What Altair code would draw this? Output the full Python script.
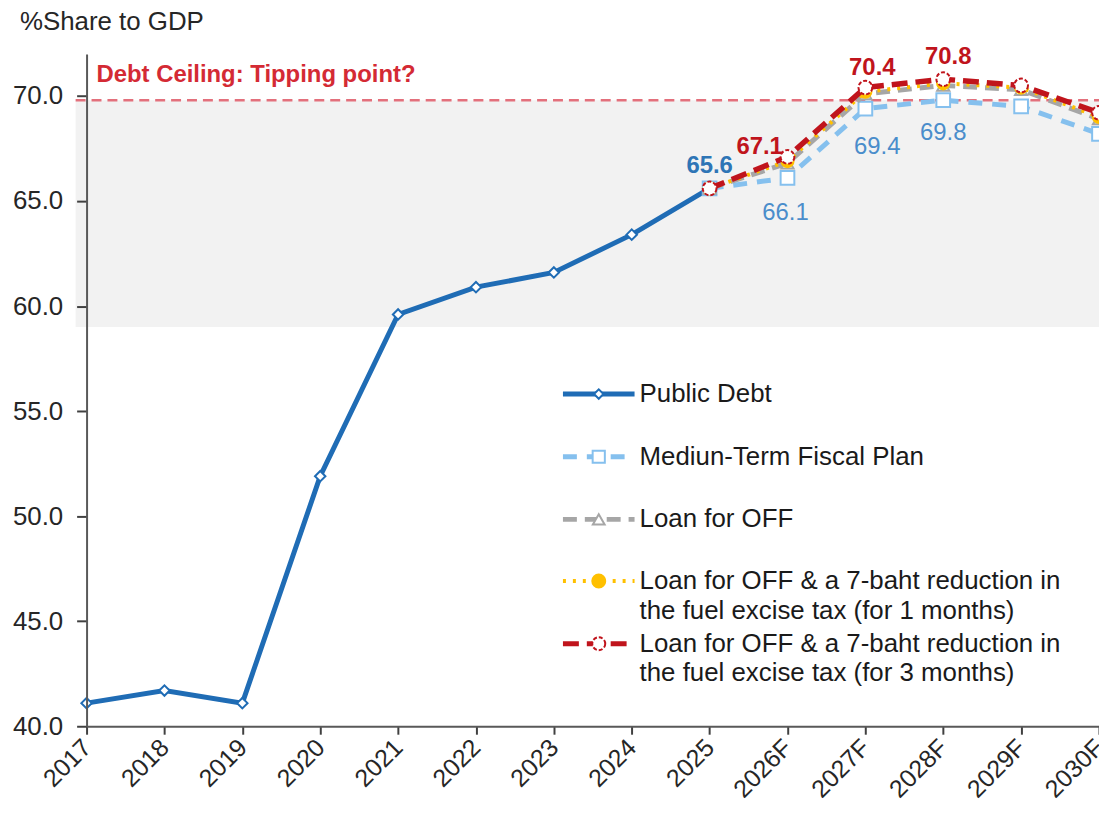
import altair as alt
import pandas as pd

FONT = "Liberation Sans"

# ---------------- data ----------------
years = ["2017", "2018", "2019", "2020", "2021", "2022", "2023", "2024",
         "2025", "2026F", "2027F", "2028F", "2029F", "2030F"]
hist_years = years[:9]
public_debt = [41.1, 41.7, 41.1, 51.9, 59.6, 60.9, 61.6, 63.4, 65.6]

fc_years = ["2025", "2026F", "2027F", "2028F", "2029F", "2030F"]
medium_term = [65.6, 66.1, 69.4, 69.8, 69.5, 68.2]
loan_off = [65.6, 66.8, 70.1, 70.5, 70.3, 68.9]
loan_1m = [65.6, 66.9, 70.2, 70.6, 70.4, 69.0]
loan_3m = [65.6, 67.1, 70.4, 70.8, 70.5, 69.2]

ceiling_value = [69.8]
band_range = [59.0, 69.8]
ceiling_text = ["Debt Ceiling: Tipping point?"]
y_title = "%Share to GDP"

legend_labels = [
    ["Public Debt"],
    ["Mediun-Term Fiscal Plan"],
    ["Loan for OFF"],
    ["Loan for OFF & a 7-baht reduction in", "the fuel excise tax (for 1 months)"],
    ["Loan for OFF & a 7-baht reduction in", "the fuel excise tax (for 3 months)"],
]

# ---------------- layout ----------------
W, H = 1018, 676
C_PD = "#1F6CB5"
C_MT = "#85C0EE"
C_OFF = "#A6A6A6"
C_1M = "#FFC000"
C_3M = "#C0141C"
C_CEIL = "#E3707C"

def X():
    return alt.X("year:O",
                 scale=alt.Scale(domain=years, type="point", padding=0),
                 axis=alt.Axis(title=None, labelAngle=-45, labelAlign="right",
                               labelBaseline="middle", labelFontSize=25,
                               labelPadding=9, tickSize=8, zindex=1, grid=False))

def Y(field):
    return alt.Y(f"{field}:Q",
                 scale=alt.Scale(domain=[40, 72], nice=False, zero=False),
                 axis=alt.Axis(title=None, values=[40, 45, 50, 55, 60, 65, 70],
                               format=".1f", tickSize=10, labelPadding=14,
                               labelFontSize=26, zindex=1, grid=False))

layers = []

# band
band_df = pd.DataFrame({"lo": [band_range[0]], "hi": [band_range[1]]})
layers.append(alt.Chart(band_df).mark_rect(color="#F2F2F2").encode(
    y=Y("lo"), y2="hi", x=alt.value(-11), x2=alt.value(W)))

# ceiling line
ceil_df = pd.DataFrame({"c": ceiling_value})
layers.append(alt.Chart(ceil_df).mark_rule(color=C_CEIL, strokeWidth=2.5,
                                           strokeDash=[10, 6]).encode(
    y=Y("c"), x=alt.value(-11), x2=alt.value(W)))

ceil_txt_df = pd.DataFrame({"t": ceiling_text, "v": [71.0]})
layers.append(alt.Chart(ceil_txt_df).mark_text(
    align="left", baseline="middle", fontSize=24, fontWeight="bold",
    color="#D42A34", font=FONT).encode(x=alt.value(10), y=Y("v"), text="t:N"))


def series(yrs, vals, color, width, dash, shape, size, fill, pdash=None):
    df = pd.DataFrame({"year": yrs, "value": vals})
    base = alt.Chart(df).encode(x=X(), y=Y("value"))
    lk = dict(color=color, strokeWidth=width, strokeCap="butt")
    if dash:
        lk["strokeDash"] = dash
    pk = dict(shape=shape, size=size, filled=True, fill=fill, stroke=color,
              strokeWidth=2, opacity=1)
    if pdash:
        pk["strokeDash"] = pdash
    return [base.mark_line(**lk), base.mark_point(**pk)]

layers += series(hist_years, public_debt, C_PD, 5, None, "diamond", 110, "white")
layers += series(fc_years, medium_term, C_MT, 5, [14, 10], "square", 190, "white")
layers += series(fc_years, loan_off, C_OFF, 5, [14, 8], "triangle-up", 150, "white")
layers += series(fc_years, loan_1m, C_1M, 4, [3, 7], "circle", 150, C_1M)
layers += series(fc_years, loan_3m, C_3M, 5.5, [16, 8], "circle", 190, "white", [4, 2])

# data labels
def label(yr, val, color, weight, dx, dy):
    df = pd.DataFrame({"year": [yr], "value": [val]})
    return alt.Chart(df).mark_text(
        fontSize=24, fontWeight=weight, color=color, font=FONT,
        align="center", baseline="middle", dx=dx, dy=dy).encode(
        x=X(), y=Y("value"), text=alt.Text("value:Q", format=".1f"))

layers.append(label("2025", public_debt[8], "#2E75B6", "bold", 0, -22))
layers.append(label("2026F", loan_3m[1], C_3M, "bold", -28, -10))
layers.append(label("2027F", loan_3m[2], C_3M, "bold", 7, -20))
layers.append(label("2028F", loan_3m[3], C_3M, "bold", 5, -22))
layers.append(label("2026F", medium_term[1], "#4A8DCB", "normal", -2, 35))
layers.append(label("2027F", medium_term[2], "#4A8DCB", "normal", 12, 39))
layers.append(label("2028F", medium_term[3], "#4A8DCB", "normal", 0, 33))

# legend (hand-built inside the plot)
LX0, LX1, LXM, LXT = 479, 551, 515, 556
LEG_Y = [342, 405, 468, 530, 593]
LINE_GAP = 30
leg_styles = [
    dict(color=C_PD, width=5, dash=None, shape="diamond", size=90, fill="white", pdash=None),
    dict(color=C_MT, width=5, dash=[14, 10], shape="square", size=150, fill="white", pdash=None),
    dict(color=C_OFF, width=5, dash=[14, 8], shape="triangle-up", size=140, fill="white", pdash=None),
    dict(color=C_1M, width=4, dash=[3, 7], shape="circle", size=170, fill=C_1M, pdash=None),
    dict(color=C_3M, width=5, dash=[16, 8], shape="circle", size=170, fill="white", pdash=[4, 2]),
]
for i, (lines, st) in enumerate(zip(legend_labels, leg_styles)):
    yy = LEG_Y[i]
    one = pd.DataFrame({"t": [lines[0]]})
    rk = dict(color=st["color"], strokeWidth=st["width"], strokeCap="butt")
    if st["dash"]:
        rk["strokeDash"] = st["dash"]
    layers.append(alt.Chart(one).mark_rule(**rk).encode(
        x=alt.value(LX0), x2=alt.value(LX1), y=alt.value(yy)))
    pk = dict(shape=st["shape"], size=st["size"], filled=True, fill=st["fill"],
              stroke=st["color"], strokeWidth=2, opacity=1)
    if st["pdash"]:
        pk["strokeDash"] = st["pdash"]
    layers.append(alt.Chart(one).mark_point(**pk).encode(
        x=alt.value(LXM), y=alt.value(yy)))
    for j, ln in enumerate(lines):
        tdf = pd.DataFrame({"t": [ln]})
        layers.append(alt.Chart(tdf).mark_text(
            align="left", baseline="middle", fontSize=26, color="#1A1A1A",
            font=FONT).encode(x=alt.value(LXT), y=alt.value(yy + j * LINE_GAP),
                              text="t:N"))

chart = alt.layer(*layers).properties(
    width=W, height=H,
    background="white",
    padding={"left": 79, "top": 44, "right": 0, "bottom": 80},
    autosize=alt.AutoSizeParams(type="none"),
    title=alt.TitleParams(text=y_title, anchor="start", frame="group", dx=-67,
                          dy=11, offset=0, baseline="alphabetic", fontSize=26,
                          fontWeight="normal", color="#262626", font=FONT),
).configure_view(stroke=None).configure_axis(
    grid=False, domainColor="#595959", domainWidth=2, tickColor="#404040",
    tickWidth=2, labelColor="#262626", labelFont=FONT,
)

chart.save("out.html", embed_options={"renderer": "svg", "actions": False})
